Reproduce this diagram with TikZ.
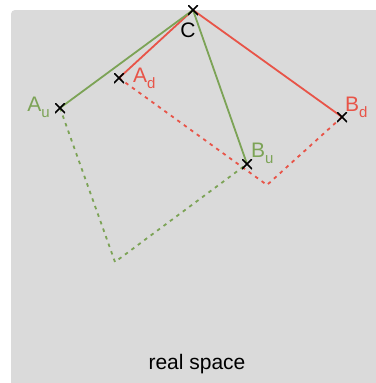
\documentclass[tikz,border=0pt]{standalone}
\usepackage{fontspec}
\setmainfont{Liberation Sans}
\definecolor{gr}{RGB}{124,163,86}
\definecolor{rd}{RGB}{232,84,72}
\definecolor{bg}{RGB}{218,218,218}
\begin{document}
\begin{tikzpicture}[x=1pt,y=-1pt,
  solidline/.style={line width=1.8pt},
  dotline/.style={line width=1.8pt,dash pattern=on 3.5pt off 4.5pt},
  crossmark/.style={draw=none,minimum size=10pt,inner sep=0pt,
    path picture={\draw[black,line width=1.7pt]
      (path picture bounding box.north west)--(path picture bounding box.south east)
      (path picture bounding box.north east)--(path picture bounding box.south west);}},
  lbl/.style={font=\fontsize{21}{25}\selectfont,inner sep=0pt},
  sub/.style={}]
\useasboundingbox (0,0) rectangle (375,383);
\fill[bg,rounded corners=4pt] (11,10) rectangle (385,393);
\coordinate (C) at (193,10);
\coordinate (Ad) at (119,78);
\coordinate (Au) at (60,108);
\coordinate (Bd) at (342,117);
\coordinate (Bu) at (247,164);
\coordinate (Rc) at (267,185);
\coordinate (Gc) at (115,262);
\draw[rd,dotline] (Ad) -- (Rc) -- (Bd);
\draw[gr,dotline] (Au) -- (Gc) -- (Bu);
\draw[rd,solidline,line join=round] (Ad) -- (C) -- (Bd);
\draw[gr,solidline,line join=round] (Au) -- (C) -- (Bu);
\node[crossmark] (nC) at (C) {};
\node[crossmark] (nAd) at (Ad) {};
\node[crossmark] (nAu) at (Au) {};
\node[crossmark] (nBd) at (Bd) {};
\node[crossmark] (nBu) at (Bu) {};
\node[lbl,text=black] (lC) at (188,30) {C};
\node[lbl,text=rd,anchor=west] (lAd) at (133,78) {A\raisebox{-0.28em}{\fontsize{15}{15}\selectfont d}};
\node[lbl,text=gr,anchor=east] (lAu) at (50,107) {A\raisebox{-0.28em}{\fontsize{15}{15}\selectfont u}};
\node[lbl,text=rd,anchor=west] (lBd) at (345,107) {B\raisebox{-0.28em}{\fontsize{15}{15}\selectfont d}};
\node[lbl,text=gr,anchor=west] (lBu) at (251,153) {B\raisebox{-0.28em}{\fontsize{15}{15}\selectfont u}};
\node[lbl,text=black] (title) at (197,364) {real space};
\end{tikzpicture}
\end{document}
